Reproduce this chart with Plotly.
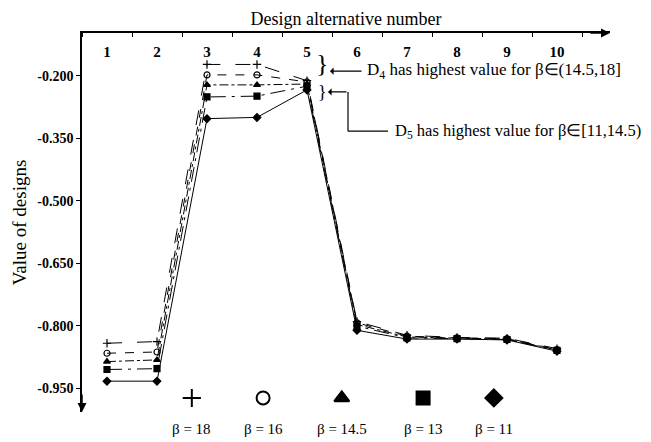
import plotly.graph_objects as go

designs = [1, 2, 3, 4, 5, 6, 7, 8, 9, 10]
betas = ["β = 18", "β = 16", "β = 14.5", "β = 13", "β = 11"]

v_b18 = [-0.842, -0.838, -0.173, -0.173, -0.212, -0.790, -0.823, -0.828, -0.830, -0.855]
v_b16 = [-0.866, -0.863, -0.198, -0.198, -0.215, -0.793, -0.825, -0.829, -0.831, -0.857]
v_b145 = [-0.886, -0.882, -0.222, -0.222, -0.220, -0.797, -0.827, -0.830, -0.832, -0.858]
v_b13 = [-0.905, -0.903, -0.251, -0.249, -0.225, -0.801, -0.829, -0.831, -0.833, -0.859]
v_b11 = [-0.933, -0.933, -0.303, -0.300, -0.234, -0.811, -0.832, -0.832, -0.834, -0.861]

series = [v_b18, v_b16, v_b145, v_b13, v_b11]
symbols = ["cross-thin-open", "circle-open", "triangle-up", "square", "diamond"]
dashes = ["longdash", "dash", "dashdot", "longdashdot", "solid"]

y_ticks = [-0.200, -0.350, -0.500, -0.650, -0.800, -0.950]

SERIF = "Liberation Serif, Times New Roman, serif"

fig = go.Figure()
for name, vals, sym, dsh in zip(betas, series, symbols, dashes):
    fig.add_trace(go.Scatter(
        x=designs, y=vals, mode="lines+markers", name=name,
        line=dict(color="black", width=1, dash=dsh),
        marker=dict(symbol=sym, size=6, color="black",
                    line=dict(color="black", width=1.2)),
        showlegend=False))

# custom legend (marker row with labels below)
leg_x = [0.208, 0.343, 0.492, 0.646, 0.780]
fig.add_trace(go.Scatter(
    x=leg_x, y=[0.037] * 5, mode="markers", xaxis="x2", yaxis="y2",
    marker=dict(symbol=symbols, size=13, color="black",
                line=dict(color="black", width=2)),
    showlegend=False, cliponaxis=False, hoverinfo="skip"))
for lx, lab in zip(leg_x, betas):
    fig.add_annotation(x=lx, y=-0.045, xref="x domain", yref="y domain",
                       text=lab, showarrow=False, xanchor="center", yanchor="middle",
                       font=dict(family=SERIF, size=15, color="black"))

# page body has an 8px margin: figure is sized/offset to compensate
fig.update_layout(
    width=643, height=434,
    margin=dict(l=74, r=41, t=25, b=30),
    paper_bgcolor="white", plot_bgcolor="white",
    font=dict(family=SERIF, color="black"),
    xaxis=dict(
        side="top", range=[0.5, 11.06], tickmode="array", tickvals=designs,
        ticktext=["<b>%d</b>" % d for d in designs], ticklabelposition="inside",
        ticklabelstandoff=14,
        ticks="", tickfont=dict(family=SERIF, size=15, color="black"),
        showline=True, linecolor="black", linewidth=1.5, showgrid=False, zeroline=False,
        automargin=False,
        minor=dict(tickmode="linear", tick0=0.5, dtick=1, ticks="inside",
                   ticklen=4, tickcolor="black"),
        title=dict(text="Design alternative number",
                   font=dict(family=SERIF, size=18, color="black"), standoff=14),
    ),
    yaxis=dict(
        range=[-1.007, -0.0975], tickmode="array", tickvals=y_ticks,
        ticktext=["<b>%.3f</b>" % t for t in y_ticks],
        ticks="outside", ticklen=4, tickcolor="black",
        tickfont=dict(family=SERIF, size=14, color="black"),
        showline=True, linecolor="black", linewidth=1.5, showgrid=False, zeroline=False,
        automargin=False,
        title=dict(text="Value of designs",
                   font=dict(family=SERIF, size=19, color="black"), standoff=6),
    ),
    xaxis2=dict(range=[0, 1], overlaying="x", visible=False, anchor="y2"),
    yaxis2=dict(range=[0, 1], overlaying="y", visible=False, anchor="x2"),
)

# arrowheads at axis ends
fig.add_annotation(x=1.0, y=1.0, xref="x domain", yref="y domain",
                   ax=0.96, ay=1.0, axref="x domain", ayref="y domain",
                   text="", showarrow=True, arrowhead=2, arrowsize=1.2,
                   arrowwidth=1.5, arrowcolor="black")
fig.add_annotation(x=0.0, y=0.0, xref="x domain", yref="y domain",
                   ax=0.0, ay=0.05, axref="x domain", ayref="y domain",
                   text="", showarrow=True, arrowhead=2, arrowsize=1.2,
                   arrowwidth=1.5, arrowcolor="black")

# braces
fig.add_annotation(x=5.3, y=-0.170, xref="x", yref="y", text="}", showarrow=False,
                   font=dict(family=SERIF, size=26, color="black"), xanchor="center")
fig.add_annotation(x=5.3, y=-0.240, xref="x", yref="y", text="}", showarrow=False,
                   font=dict(family=SERIF, size=18, color="black"), xanchor="center")

# D4 text with arrow
fig.add_annotation(x=0.536, y=-0.188, xref="paper", yref="y", xanchor="left",
                   width=282, align="left",
                   text="D<sub>4</sub> has highest value for β∈(14.5,18]",
                   showarrow=False, font=dict(family=SERIF, size=17, color="black"))
fig.add_annotation(x=5.46, y=-0.189, xref="x", yref="y",
                   ax=6.12, ay=-0.189, axref="x", ayref="y",
                   text="", showarrow=True, arrowhead=1, arrowwidth=1.2, arrowcolor="black")

# D5 text with bent connector
fig.add_annotation(x=0.589, y=-0.333, xref="paper", yref="y", xanchor="left",
                   width=256, align="left",
                   text="D<sub>5</sub> has highest value for β∈[11,14.5)",
                   showarrow=False, font=dict(family=SERIF, size=16.5, color="black"))
fig.add_shape(type="line", x0=6.62, y0=-0.333, x1=5.82, y1=-0.333,
              xref="x", yref="y", line=dict(color="black", width=1.2))
fig.add_shape(type="line", x0=5.82, y0=-0.333, x1=5.82, y1=-0.239,
              xref="x", yref="y", line=dict(color="black", width=1.2))
fig.add_annotation(x=5.42, y=-0.239, xref="x", yref="y",
                   ax=5.82, ay=-0.239, axref="x", ayref="y",
                   text="", showarrow=True, arrowhead=1, arrowwidth=1.2, arrowcolor="black")

fig.write_html("out.html")
